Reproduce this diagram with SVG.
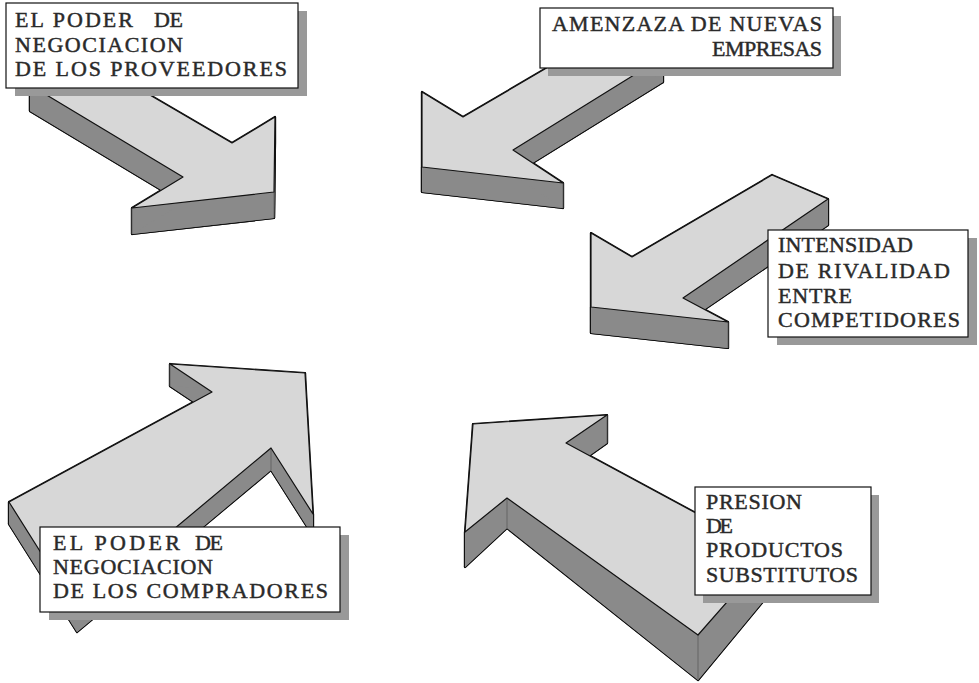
<svg xmlns="http://www.w3.org/2000/svg" xmlns:xlink="http://www.w3.org/1999/xlink" width="979" height="683" viewBox="0 0 979 683">
<style>
  .top { fill: #d7d7d7; stroke: #111; stroke-width: 1.2; stroke-linejoin: round; }
  .sideo { fill: #8a8a8a; stroke: #111; stroke-width: 2.2; stroke-linejoin: round; }
  .sidef { fill: #8a8a8a; stroke: none; }
  .crease { stroke: #5a5a5a; stroke-width: 0.8; fill: none; }
  .shadow { fill: #999999; }
  .box { fill: #ffffff; stroke: #111; stroke-width: 1.2; }
  .lbl { font-family: "Liberation Serif", "Times New Roman", serif; font-size: 22px; fill: #2a2a2a; stroke: #2a2a2a; stroke-width: 0.45; }
</style>
<defs>
  <g id="s1">
    <polygon points="30,51 232,169 275,143 274,218 132,234 183,203 30,111"/>
    <polygon points="30,25 232,143 232,169 30,51"/>
    <polygon points="232,143 275,117 275,143 232,169"/>
    <polygon points="275,117 274,192 274,218 275,143"/>
    <polygon points="274,192 132,208 132,234 274,218"/>
    <polygon points="132,208 183,177 183,203 132,234"/>
    <polygon points="183,177 30,85 30,111 183,203"/>
    <polygon points="30,85 30,25 30,51 30,111"/>
  </g>
  <g id="s2">
    <polygon points="620,50 463,142 422,117 422,192 563,208 513,175 663,82"/>
    <polygon points="620,25 463,117 463,142 620,50"/>
    <polygon points="463,117 422,92 422,117 463,142"/>
    <polygon points="422,92 422,167 422,192 422,117"/>
    <polygon points="422,167 563,183 563,208 422,192"/>
    <polygon points="563,183 513,150 513,175 563,208"/>
    <polygon points="513,150 663,57 663,82 513,175"/>
    <polygon points="663,57 620,25 620,50 663,82"/>
  </g>
  <g id="s3">
    <polygon points="772,201 828,225 683,324 728,348 591,333 591,259 632,283"/>
    <polygon points="772,175 828,199 828,225 772,201"/>
    <polygon points="828,199 683,298 683,324 828,225"/>
    <polygon points="683,298 728,322 728,348 683,324"/>
    <polygon points="728,322 591,307 591,333 728,348"/>
    <polygon points="591,307 591,233 591,259 591,333"/>
    <polygon points="591,233 632,257 632,283 591,259"/>
    <polygon points="632,257 772,175 772,201 632,283"/>
  </g>
  <g id="s4">
    <polygon points="9,524 212,414 170,386 305,395 313,536 271,470 77,632"/>
    <polygon points="9,502 212,392 212,414 9,524"/>
    <polygon points="212,392 170,364 170,386 212,414"/>
    <polygon points="170,364 305,373 305,395 170,386"/>
    <polygon points="305,373 313,514 313,536 305,395"/>
    <polygon points="313,514 271,448 271,470 313,536"/>
    <polygon points="271,448 77,610 77,632 271,470"/>
    <polygon points="77,610 9,502 9,524 77,632"/>
  </g>
  <g id="s5">
    <polygon points="473,452 607,443 566,472 770,593 698,680 507,528 465,567"/>
    <polygon points="473,424 607,415 607,443 473,452"/>
    <polygon points="607,415 566,443 566,472 607,443"/>
    <polygon points="566,443 770,553 770,593 566,472"/>
    <polygon points="770,553 698,635 698,680 770,593"/>
    <polygon points="698,635 507,498 507,528 698,680"/>
    <polygon points="507,498 465,532 465,567 507,528"/>
    <polygon points="465,532 473,424 473,452 465,567"/>
  </g>
</defs>

<g id="connectors">
  <g id="arrow-proveedores">
    <use xlink:href="#s1" class="sideo"/>
    <use xlink:href="#s1" class="sidef"/>
    <line class="crease" x1="274" y1="192" x2="274" y2="218"/>
    <line class="crease" x1="132" y1="208" x2="132" y2="234"/>
    <polygon class="top" points="30,25 232,143 275,117 274,192 132,208 183,177 30,85"/>
  </g>
  <g id="arrow-amenaza">
    <use xlink:href="#s2" class="sideo"/>
    <use xlink:href="#s2" class="sidef"/>
    <line class="crease" x1="563" y1="183" x2="563" y2="208"/>
    <polygon class="top" points="620,25 463,117 422,92 422,167 563,183 513,150 663,57"/>
  </g>
  <g id="arrow-rivalidad">
    <use xlink:href="#s3" class="sideo"/>
    <use xlink:href="#s3" class="sidef"/>
    <line class="crease" x1="728" y1="322" x2="728" y2="348"/>
    <polygon class="top" points="772,175 828,199 683,298 728,322 591,307 591,233 632,257"/>
  </g>
  <g id="arrow-compradores">
    <use xlink:href="#s4" class="sideo"/>
    <use xlink:href="#s4" class="sidef"/>
    <line class="crease" x1="271" y1="448" x2="271" y2="470"/>
    <line class="crease" x1="170" y1="364" x2="170" y2="386"/>
    <polygon class="top" points="9,502 212,392 170,364 305,373 313,514 271,448 77,610"/>
  </g>
  <g id="arrow-substitutos">
    <use xlink:href="#s5" class="sideo"/>
    <use xlink:href="#s5" class="sidef"/>
    <line class="crease" x1="507" y1="498" x2="507" y2="528"/>
    <line class="crease" x1="698" y1="635" x2="698" y2="680"/>
    <line class="crease" x1="607" y1="415" x2="607" y2="443"/>
    <polygon class="top" points="473,424 607,415 566,443 770,553 698,635 507,498 465,532"/>
  </g>
</g>

<g id="node-proveedores">
  <rect class="shadow" x="15" y="11" width="292" height="85"/>
  <rect class="box" x="6" y="3" width="292" height="85"/>
  <text class="lbl" x="15" y="27" textLength="118" lengthAdjust="spacing">EL PODER</text>
  <text class="lbl" x="154" y="27" textLength="29" lengthAdjust="spacing">DE</text>
  <text class="lbl" x="15" y="52" textLength="168" lengthAdjust="spacing">NEGOCIACION</text>
  <text class="lbl" x="15" y="76" textLength="272" lengthAdjust="spacing">DE LOS PROVEEDORES</text>
</g>

<g id="node-amenaza">
  <rect class="shadow" x="548" y="16" width="293" height="60"/>
  <rect class="box" x="540" y="8" width="293" height="60"/>
  <text class="lbl" x="552" y="31" textLength="270" lengthAdjust="spacing">AMENZAZA DE NUEVAS</text>
  <text class="lbl" x="712" y="56" textLength="110" lengthAdjust="spacing">EMPRESAS</text>
</g>

<g id="node-rivalidad">
  <rect class="shadow" x="777" y="238" width="200" height="107"/>
  <rect class="box" x="768" y="230" width="200" height="107"/>
  <text class="lbl" x="778" y="252" textLength="135" lengthAdjust="spacing">INTENSIDAD</text>
  <text class="lbl" x="778" y="278" textLength="172" lengthAdjust="spacing">DE RIVALIDAD</text>
  <text class="lbl" x="778" y="303" textLength="74" lengthAdjust="spacing">ENTRE</text>
  <text class="lbl" x="778" y="327" textLength="182" lengthAdjust="spacing">COMPETIDORES</text>
</g>

<g id="node-compradores">
  <rect class="shadow" x="49" y="535" width="300" height="85"/>
  <rect class="box" x="40" y="527" width="300" height="85"/>
  <text class="lbl" x="53" y="550" textLength="127" lengthAdjust="spacing">EL PODER</text>
  <text class="lbl" x="195" y="550" textLength="28" lengthAdjust="spacing">DE</text>
  <text class="lbl" x="53" y="574" textLength="160" lengthAdjust="spacing">NEGOCIACION</text>
  <text class="lbl" x="53" y="598" textLength="275" lengthAdjust="spacing">DE LOS COMPRADORES</text>
</g>

<g id="node-substitutos">
  <rect class="shadow" x="703" y="495" width="176" height="108"/>
  <rect class="box" x="695" y="487" width="176" height="108"/>
  <text class="lbl" x="706" y="509" textLength="96" lengthAdjust="spacing">PRESION</text>
  <text class="lbl" x="706" y="533" textLength="27" lengthAdjust="spacing">DE</text>
  <text class="lbl" x="706" y="557" textLength="137" lengthAdjust="spacing">PRODUCTOS</text>
  <text class="lbl" x="706" y="582" textLength="152" lengthAdjust="spacing">SUBSTITUTOS</text>
</g>
</svg>
